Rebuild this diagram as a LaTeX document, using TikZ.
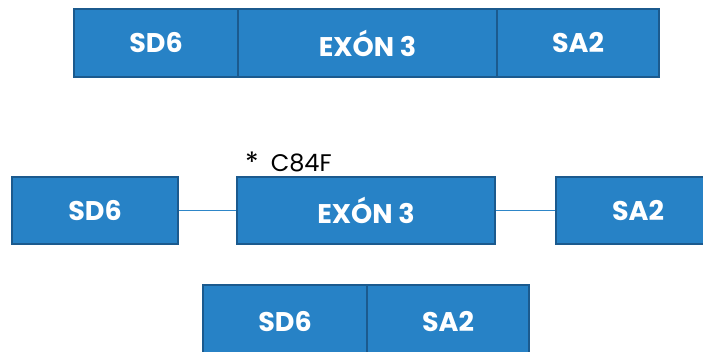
\documentclass[tikz,border=0pt]{standalone}
\usepackage{fontspec}
\setmainfont{Poppins}
\definecolor{boxfill}{RGB}{39,130,198}
\definecolor{boxline}{RGB}{27,90,142}
\definecolor{linkcol}{RGB}{46,134,200}
\begin{document}
\begin{tikzpicture}[x=1pt,y=-1pt,
  seg/.style={draw=boxline,line width=1.8pt,fill=boxfill,rectangle,inner sep=0pt,
    text=white,font=\bfseries\fontsize{27}{27}\selectfont},
  link/.style={draw=linkcol,line width=1.6pt}]
\useasboundingbox (0,0) rectangle (703,351);
\clip (0,0) rectangle (703,351);
% top row
\node[seg,minimum width=164pt,minimum height=68pt] (t1) at (156,43) {SD6};
\node[seg,minimum width=259pt,minimum height=68pt] (t2) at (367.5,43) {EXÓN 3};
\node[seg,minimum width=162pt,minimum height=68pt] (t3) at (578,43) {SA2};
% middle row
\node[seg,minimum width=166pt,minimum height=67pt] (m1) at (95,210.5) {SD6};
\node[seg,minimum width=258pt,minimum height=67pt] (m2) at (366,210.5) {EXÓN 3};
\node[seg,minimum width=164pt,minimum height=67pt] (m3) at (638,210.5) {SA2};
\draw[link] (m1.east) -- (m2.west);
\draw[link] (m2.east) -- (m3.west);
\node[anchor=base west,inner sep=0pt,font=\fontsize{24}{24}\selectfont] (mut) at (245,171)
  {\raisebox{-1pt}{\fontsize{28}{28}\selectfont *}\hspace{12pt}C84F};
% bottom row
\node[seg,minimum width=164pt,minimum height=74pt] (b1) at (285,322) {SD6};
\node[seg,minimum width=162pt,minimum height=74pt] (b2) at (448,322) {SA2};
\end{tikzpicture}
\end{document}
